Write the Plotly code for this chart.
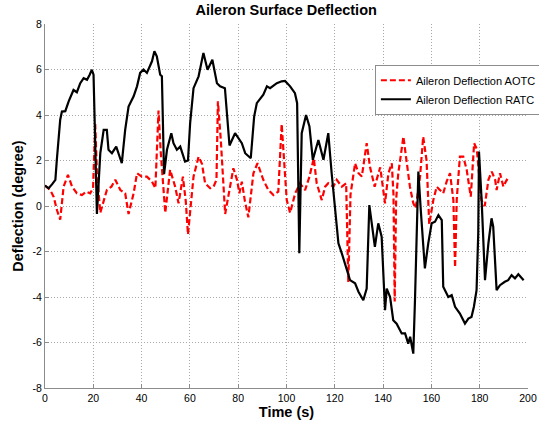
import plotly.graph_objects as go

# ---- data ----
t_aotc = [0, 2.2, 3.6, 5.0, 6.3, 7.7, 9.5, 11.2, 13.2, 15.3,
          17.1, 18.7, 19.9, 20.8, 21.5, 22.9, 25.6, 27.5, 29.1, 31.2,
          33.2, 34.6, 36.7, 38.1, 40.1, 42.2, 44.3, 45.7, 47.0, 47.9,
          49.8, 51.8, 53.9, 55.3, 57.1, 58.3, 59.2, 61.5, 63.6, 65,
          66.3, 68.4, 69.8, 71.0, 71.6, 72.8, 74.6, 76.7, 78, 79.5,
          80.5, 81.5, 82.8, 84.2, 86.3, 88, 90.4, 92.5, 94.6, 96.6,
          98, 99.0, 100.1, 101.5, 103.6, 105.6, 107.7, 109.5, 111.3, 112.5,
          114.6, 116, 117.3, 119.4, 120.8, 122.9, 124.7, 125.6, 126.5, 128.4,
          129.8, 131.2, 133.2, 134.6, 136.5, 138.8, 140.8, 142.2, 143.6, 144.3,
          144.8, 145.4, 146.3, 148.4, 149.8, 151.1, 152.5, 153.5, 155.3, 156.6,
          158, 159.1, 160.8, 162.2, 164.9, 166.3, 167.7, 169.1, 169.8, 170.5,
          171.8, 173.2, 174.6, 176.3, 177.7, 178.8, 180.7, 182.1, 183.6, 185,
          186.4, 187, 188.4, 189.8, 191.2, 192.6]
v_aotc = [0.9, 0.7, 0.4, -0.2, -0.6, 0.85, 1.37, 0.85, 0.56, 0.48,
          0.63, 0.56, 0.78, 3.6, 1.5, -0.3, 0.7, 0.85, 1.15, 0.7,
          0.56, -0.35, 0.56, 1.44, 1.29, 1.29, 1.07, 0.78, 4.2, 2.4,
          -0.3, 1.59, 0.85, 0.12, 1.29, 0.2, -1.25, 1.29, 2.17, 1.85,
          1.0, 0.78, 0.85, 1.15, 4.6, 2.9, -0.35, 0.85, 1.66, 1.15,
          0.56, 1.07, 0.2, -0.5, 1.44, 1.88, 1.15, 0.7, 0.48, 0.63,
          3.6, 2.0, 0.26, -0.3, 0.56, 1.0, 0.7, 1.29, 2.1, 1.0,
          0.26, 0.85, 1.0, 0.85, 1.15, 0.85, 1.0, -3.35, 0.5, 1.88,
          1.44, 1.3, 2.76, 1.7, 0.85, 1.7, 0.12, 1.44, 1.88, 0.5,
          -4.2, 0.3, 1.44, 3.05, 2.0, 0.85, 0.12, -0.1, 1.29, 3.05,
          2.0, -0.8, 0.26, 0.85, 0.56, 1.07, 1.44, 0.26, -2.7, 0.3,
          2.17, 2.17, 1.6, 0.41, 2.76, 2.5, 0.26, 0.0, 1.15, 1.51,
          1.15, 0.7, 1.44, 0.85, 1.15, 1.07]

t_ratc = [0, 1.5, 2.9, 4.3, 4.9, 5.6, 6.3, 7.0, 8.4, 9.8,
          11.8, 13.2, 14.6, 16.0, 17.4, 18.5, 19.4, 20.1, 20.6, 21.5,
          22.9, 24.3, 25.6, 26.3, 27.7, 29.5, 31.8, 33.2, 34.6, 36.7,
          38.1, 39.4, 40.8, 42.2, 44.3, 45.3, 46.3, 47.7, 48.4, 49.3,
          50.5, 52.3, 53.2, 54.6, 56, 58, 59.2, 60.1, 61.5, 63.6,
          65.6, 67.3, 69.3, 71.2, 72.5, 74.5, 76.4, 78.7, 81.5, 82.9,
          85.2, 86.6, 87.7, 90.4, 91.9, 93.2, 96, 98, 99.4, 101.5,
          103.5, 104.4, 105.3, 106.3, 108.1, 109.5, 110.9, 113.2, 115.3, 117.3,
          118.7, 120.1, 121.5, 122.9, 124.7, 126.3, 128.4, 129.8, 131.8, 133.2,
          134.3, 136.6, 138, 139.4, 140.8, 141.5, 142.9, 144.2, 145.6, 147.7,
          149.1, 150.4, 151.2, 152.5, 153.2, 154.6, 155.6, 157.3, 158.7, 160.1,
          161.5, 162.9, 164.3, 164.9, 167, 168.4, 169.8, 171.8, 173.9, 175.3,
          176.6, 177.6, 178.7, 179.4, 179.7, 180.8, 182.2, 183.6, 184.9, 185.6,
          187, 188.4, 190.4, 191.8, 193.2, 194.6, 196, 197.3, 198.2]
v_ratc = [0.9, 0.78, 0.95, 1.15, 2.03, 2.76, 3.79, 4.15, 4.17, 4.6,
          5.1, 5.0, 5.4, 5.62, 5.55, 5.77, 5.99, 5.77, 3.6, -0.35,
          2.32, 3.35, 3.35, 2.47, 2.32, 2.61, 1.88, 3.35, 4.37, 4.82,
          5.26, 5.85, 6.0, 5.85, 6.36, 6.8, 6.58, 5.77, 5.7, 1.4,
          2.47, 3.2, 2.76, 2.47, 2.61, 1.95, 2.0, 3.64, 5.18, 5.7,
          6.73, 5.99, 6.43, 5.4, 5.26, 5.18, 2.66, 3.2, 2.76, 2.32,
          2.1, 3.93, 4.52, 4.89, 5.26, 5.18, 5.4, 5.48, 5.5, 5.26,
          4.96, 4.52, -2.08, 3.2, 4.0, 3.5, 2.03, 2.9, 2.03, 3.2,
          1.44, -0.18, -1.64, -2.08, -2.74, -3.26, -3.4, -3.77, -4.14, -3.63,
          0.04, -1.8, -0.76, -1.35, -4.58, -3.63, -4.0, -5.02, -5.17, -5.6,
          -5.6, -6.05, -5.75, -6.49, -4.14, 1.51, -0.18, -2.74, -1.64, -0.76,
          -0.69, -0.4, -0.62, -3.55, -4.0, -3.92, -4.43, -4.73, -5.17, -4.95,
          -4.88, -4.43, -3.7, -1.2, 2.39, 0.26, -3.26, -1.64, -0.54, -0.91,
          -3.7, -3.48, -3.33, -3.26, -3.04, -3.18, -3.0, -3.18, -3.26]

x_ticks = [0, 20, 40, 60, 80, 100, 120, 140, 160, 180, 200]
x_tick_labels = ["0", "20", "40", "60", "80", "100", "120", "140", "160", "180", "200"]
y_ticks = [-8, -6, -4, -2, 0, 2, 4, 6, 8]
y_tick_labels = ["-8", "-6", "-4", "-2", "0", "2", "4", "6", "8"]

name_aotc = "Aileron Deflection AOTC"
name_ratc = "Aileron Deflection RATC"

FONT = "Liberation Sans, Arial, Helvetica, sans-serif"

fig = go.Figure()
fig.add_trace(go.Scatter(x=t_aotc, y=v_aotc, mode="lines", name=name_aotc,
                         line=dict(color="#ff0000", width=2.2, dash="6px,3px")))
fig.add_trace(go.Scatter(x=t_ratc, y=v_ratc, mode="lines", name=name_ratc,
                         line=dict(color="#000000", width=2.2)))

axis_common = dict(
    automargin=False,
    showgrid=True, gridcolor="#a8a8a8", griddash="1px,2px", gridwidth=1,
    showline=True, linecolor="#8c8c8c", linewidth=1,
    ticks="inside", ticklen=4, tickcolor="#8c8c8c",
    zeroline=False, tickfont=dict(family=FONT, size=10.5, color="#000000"),
)

fig.update_layout(
    width=539, height=425,
    margin=dict(l=44.7, r=11, t=24.3, b=37.3, autoexpand=False),
    paper_bgcolor="white", plot_bgcolor="white",
    title=dict(text="<b>Aileron Surface Deflection</b>", x=0.531, xanchor="center",
               y=0.977, yanchor="middle",
               font=dict(family=FONT, size=14.5, color="#000000")),
    xaxis=dict(range=[0, 200], tickvals=x_ticks, ticktext=x_tick_labels,
               title=dict(text="<b>Time (s)</b>", standoff=4,
                          font=dict(family=FONT, size=14.5, color="#000000")),
               **axis_common),
    yaxis=dict(range=[-8, 8], tickvals=y_ticks, ticktext=y_tick_labels,
               title=dict(text="<b>Deflection (degree)</b>", standoff=5,
                          font=dict(family=FONT, size=14.5, color="#000000")),
               **axis_common),
    legend=dict(x=0.683, y=0.888, xanchor="left", yanchor="top",
                bgcolor="white", bordercolor="#8c8c8c", borderwidth=1,
                font=dict(family=FONT, size=11, color="#000000"),
                itemwidth=30, tracegroupgap=0),
    showlegend=True,
)

fig.write_html("out.html")
